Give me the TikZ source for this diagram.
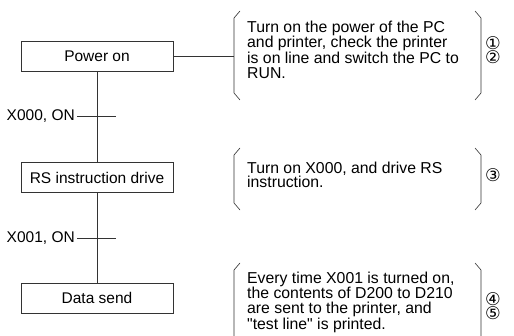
\documentclass[tikz,border=0pt]{standalone}
\usepackage{fontspec}
\setmainfont{Liberation Sans}
\newfontfamily\qfont{Liberation Sans}[Ligatures=TeXOff]
\newfontfamily\circfont{DejaVu Sans}
\newcommand{\sq}{{\qfont\symbol{34}}}
\tikzset{
  ln/.style={line width=0.6pt, draw=black!80},
  stepbox/.style={ln, draw, minimum width=152pt, minimum height=30pt, inner sep=0pt, font=\fontsize{15.5}{14}\selectfont},
  cond/.style={anchor=east, inner sep=2pt, font=\fontsize{15.5}{14}\selectfont},
  desc/.style={anchor=north west, inner sep=0pt, align=left, font=\fontsize{15.8}{14.6}\selectfont},
  num/.style={inner sep=0pt, font=\circfont\fontsize{17.5}{17.5}\selectfont},
}
\begin{document}
\begin{tikzpicture}[x=1pt,y=-1pt]
\useasboundingbox (0,0) rectangle (514,336);
% steps
\node[stepbox] (p1) at (97,56) {Power on};
\node[stepbox] (p2) at (97,177.5) {RS instruction drive};
\node[stepbox] (p3) at (97,298) {Data send};
\draw[ln] (p1) -- (p2);
\draw[ln] (p2) -- (p3);
% transitions
\node[cond] (c1) at (77,116) {X000, ON};
\coordinate (c1e) at (116,116);
\draw[ln] (c1.east) -- (c1e);
\node[cond] (c2) at (77,238) {X001, ON};
\coordinate (c2e) at (116,238);
\draw[ln] (c2.east) -- (c2e);
% connector to description
\coordinate (b1) at (234,56);
\draw[ln] (p1.east) -- (b1);
% brackets
\draw[ln] (240,11) -- (234,18) -- (234,93) -- (240,100);
\draw[ln] (475,11) -- (481,18) -- (481,93) -- (475,100);
\draw[ln] (240,148) -- (234,155) -- (234,203) -- (240,210);
\draw[ln] (475,148) -- (481,155) -- (481,203) -- (475,210);
\draw[ln] (240,263) -- (234,270) -- (234,340);
\draw[ln] (475,263) -- (481,270) -- (481,340);
% descriptions
\node[desc] (d1) at (247,20.5) {Turn on the power of the PC\\and printer, check the printer\\is on line and switch the PC to\\RUN.};
\node[desc] (d2) at (247,161.5) {Turn on X000, and drive RS\\instruction.};
\node[desc] (d3) at (247,271.5) {Every time X001 is turned on,\\the contents of D200 to D210\\are sent to the printer, and\\\sq test line\sq{} is printed.};
% step numbers
\node[num] (n1) at (493,43) {①};
\node[num] (n2) at (493,57) {②};
\node[num] (n3) at (493,175) {③};
\node[num] (n4) at (493,299) {④};
\node[num] (n5) at (493,313) {⑤};
\end{tikzpicture}
\end{document}
